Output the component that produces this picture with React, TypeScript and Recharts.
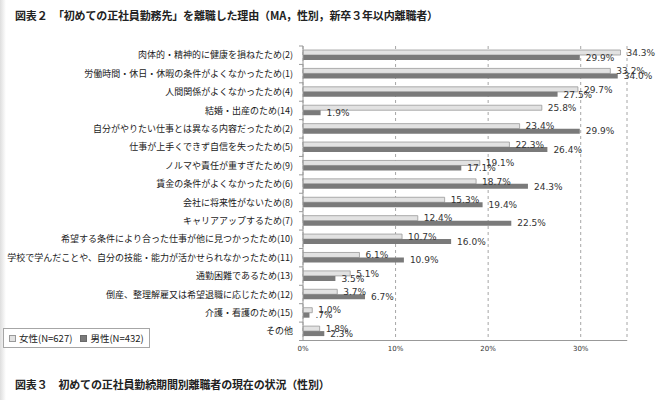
import React from 'react';
import { BarChart, Bar, XAxis, YAxis, CartesianGrid, Legend, LabelList } from 'recharts';

const reasons = [
  '肉体的・精神的に健康を損ねたため(2)',
  '労働時間・休日・休暇の条件がよくなかったため(1)',
  '人間関係がよくなかったため(4)',
  '結婚・出産のため(14)',
  '自分がやりたい仕事とは異なる内容だったため(2)',
  '仕事が上手くできず自信を失ったため(5)',
  'ノルマや責任が重すぎたため(9)',
  '賃金の条件がよくなかったため(6)',
  '会社に将来性がないため(8)',
  'キャリアアップするため(7)',
  '希望する条件により合った仕事が他に見つかったため(10)',
  '学校で学んだことや、自分の技能・能力が活かせられなかったため(11)',
  '通勤困難であるため(13)',
  '倒産、整理解雇又は希望退職に応じたため(12)',
  '介護・看護のため(15)',
  'その他',
];
const female = [34.3, 33.2, 29.7, 25.8, 23.4, 22.3, 19.1, 18.7, 15.3, 12.4, 10.7, 6.1, 5.1, 3.7, 1.0, 1.8];
const male = [29.9, 34.0, 27.5, 1.9, 29.9, 26.4, 17.1, 24.3, 19.4, 22.5, 16.0, 10.9, 3.5, 6.7, 0.7, 2.3];
const seriesNames = ['女性(N=627)', '男性(N=432)'];
const xTicks = [0, 10, 20, 30];

const title = '図表２　「初めての正社員勤務先」を離職した理由（MA，性別，新卒３年以内離職者）';
const nextTitle = '図表３　初めての正社員勤続期間別離職者の現在の状況（性別）';

const data = reasons.map((reason, i) => ({ reason, female: female[i], male: male[i] }));

const jp = '"Noto Sans CJK JP", "Noto Sans", sans-serif';
const TICK_GAP = 10;

const pct = (v: any) => `${Number(v).toFixed(1)}%`.replace(/^0\./, '.');

const ReasonTick = (props: any) => {
  const { x, y, payload, index, visibleTicksCount } = props;
  const half = payload?.offset ?? 9.2;
  const ax = x + TICK_GAP;
  return (
    <g>
      <line x1={ax - 4} x2={ax} y1={y - half} y2={y - half} stroke="#999" />
      {index === visibleTicksCount - 1 && (
        <line x1={ax - 4} x2={ax} y1={y + half} y2={y + half} stroke="#999" />
      )}
      <text x={x} y={y} dy="0.35em" textAnchor="end" fontSize={9} fill="#1a1a1a" fontFamily={jp}>
        {payload.value}
      </text>
    </g>
  );
};

const LegendBox = (props: any) => (
  <div
    style={{
      display: 'flex',
      alignItems: 'center',
      border: '1px solid #a6a6a6',
      padding: '2px 5px',
      fontSize: 9.5,
      color: '#222',
      background: '#fff',
      fontFamily: jp,
      whiteSpace: 'nowrap',
    }}
  >
    {(props.payload || []).map((p: any, i: number) => (
      <span key={p.value} style={{ display: 'flex', alignItems: 'center', marginRight: i === 0 ? 8 : 0 }}>
        <span
          style={{
            width: 5,
            height: 5,
            background: p.color,
            border: `1px solid ${i === 0 ? '#999' : '#6a6a6a'}`,
            marginRight: 3,
          }}
        />
        {p.value}
      </span>
    ))}
  </div>
);

const titleStyle: React.CSSProperties = {
  position: 'absolute',
  left: 15,
  fontSize: 11,
  letterSpacing: -0.15,
  fontWeight: 'bold',
  color: '#222',
  fontFamily: jp,
  whiteSpace: 'nowrap',
};

export default function App() {
  return (
    <div style={{ position: 'absolute', left: 0, top: 0, width: 662, height: 400, background: '#fff', overflow: 'hidden' }}>
      <div style={{ position: 'absolute', left: 0, top: 0, width: 6, height: 400, background: 'linear-gradient(to right, #dedede, #fff)' }} />
      <div style={{ ...titleStyle, top: 7 }}>{title}</div>
      <BarChart
        width={662}
        height={400}
        data={data}
        layout="vertical"
        barSize={5}
        barGap={0}
        margin={{ top: 46, right: 35, left: 0, bottom: 39.5 }}
      >
        <CartesianGrid horizontal={false} stroke="#a6a6a6" strokeDasharray="3 3" />
        <XAxis
          type="number"
          domain={[0, 35]}
          ticks={xTicks}
          tickFormatter={(v: number) => `${v}%`}
          tick={{ fontSize: 7, fill: '#333', fontFamily: 'DejaVu Sans' }}
          axisLine={{ stroke: '#999' }}
          tickLine={false}
          tickSize={0}
          tickMargin={6}
          height={20}
        />
        <YAxis
          type="category"
          dataKey="reason"
          width={303}
          interval={0}
          tick={<ReasonTick />}
          tickLine={false}
          tickSize={0}
          tickMargin={TICK_GAP}
          axisLine={{ stroke: '#999' }}
        />
        <Legend
          layout="horizontal"
          verticalAlign="middle"
          align="center"
          content={<LegendBox />}
          wrapperStyle={{ left: 3, top: 328, width: 'auto' }}
        />
        <Bar dataKey="female" name={seriesNames[0]} fill="#e2e2e2" stroke="#999" strokeWidth={0.8} isAnimationActive={false}>
          <LabelList dataKey="female" position="right" offset={6} formatter={pct} fontSize={9} fill="#333" fontFamily="DejaVu Sans" />
        </Bar>
        <Bar dataKey="male" name={seriesNames[1]} fill="#7a7a7a" isAnimationActive={false}>
          <LabelList dataKey="male" position="right" offset={6} formatter={pct} fontSize={9} fill="#333" fontFamily="DejaVu Sans" />
        </Bar>
      </BarChart>
      <div style={{ ...titleStyle, top: 376 }}>{nextTitle}</div>
    </div>
  );
}
